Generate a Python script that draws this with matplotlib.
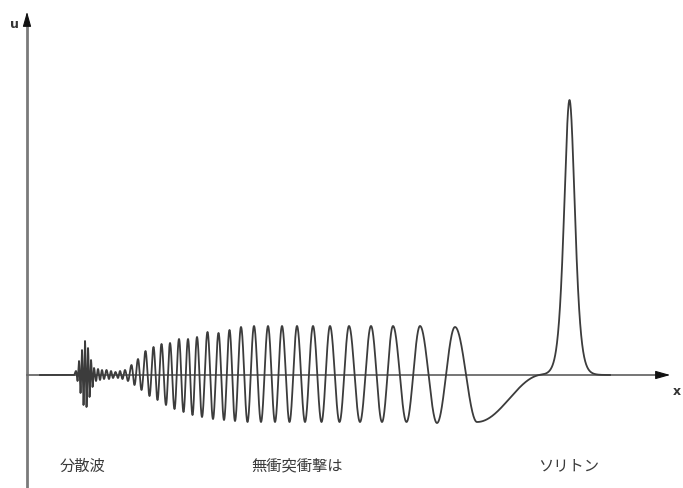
import numpy as np
import matplotlib
matplotlib.use("Agg")
import matplotlib.pyplot as plt

plt.rcParams['font.family'] = ['Noto Sans CJK JP', 'DejaVu Sans']

# Wave crests (position along x, height u) of the oscillatory train
crest_x = [76, 79, 82, 85, 88, 91, 94, 98, 102, 106.5, 111, 115.5, 120, 125, 131.5,
           138, 145.5, 153.5, 161.5, 170, 179, 188, 197, 207.5, 218.5, 229.5, 241,
           254, 268, 282, 297, 313, 330, 349, 371, 393, 420, 455]
crest_u = [4, 14, 25, 34, 27, 15, 7, 6, 5, 5, 4, 3, 4, 5, 10,
           16, 24, 28, 31, 32, 36, 36, 38, 43, 42, 45, 48,
           49, 49, 49, 49, 49, 49, 49, 49, 49, 49, 48]

# Wave troughs
trough_x = [77.5, 80.5, 83.5, 86.5, 89.5, 92.5, 96, 100, 104, 109, 113, 118, 122.5,
            128, 134.5, 141.5, 149.5, 157.5, 166, 174.5, 183.5, 192.5, 202, 213,
            224, 235, 247.5, 261, 275, 289.5, 305, 321.5, 339.5, 360, 382, 406.5,
            437, 477]
trough_u = [-6, -18, -30, -32, -22, -12, -6, -5, -4, -4, -3, -3, -4,
            -6, -10, -15, -21, -25, -30, -34, -37, -40, -42, -44,
            -45, -46, -47, -47, -47, -47, -47, -47, -47, -47, -47, -47,
            -48, -47]

# Flat baseline before and after the train
lead_x, lead_u = [40, 74], [0, 0]
tail_x, tail_u = [542, 610], [0, 0]

# Soliton: position, height, width
soliton_x0 = 569.5
soliton_amp = 275
soliton_w = 7.2

labels = ["分散波", "無衝突衝撃は", "ソリトン"]
label_x = [83, 297, 569]


def smooth_path(px, pu):
    xs, us = [], []
    for i in range(len(px) - 1):
        x0, x1, u0, u1 = px[i], px[i + 1], pu[i], pu[i + 1]
        n = max(12, int(abs(x1 - x0) * 6))
        t = np.linspace(0, 1, n, endpoint=False)
        xs.append(x0 + (x1 - x0) * t)
        us.append(u0 + (u1 - u0) * (1 - np.cos(np.pi * t)) / 2)
    xs.append([px[-1]])
    us.append([pu[-1]])
    return np.concatenate(xs), np.concatenate(us)


pts = sorted(list(zip(crest_x, crest_u)) + list(zip(trough_x, trough_u)))
px = lead_x + [p[0] for p in pts] + tail_x
pu = lead_u + [p[1] for p in pts] + tail_u
x, u = smooth_path(px, pu)
u = u + soliton_amp / np.cosh((x - soliton_x0) / soliton_w) ** 2

fig = plt.figure(figsize=(6.83, 4.89), dpi=100)
ax = fig.add_axes([0, 0, 1, 1])
ax.set_xlim(0, 683)
ax.set_ylim(-113, 376)
ax.axis('off')

# Coordinate axes with arrow heads
ax.plot([27, 27], [-113, 355], color='#7a7a7a', lw=2.0, solid_capstyle='butt', zorder=2)
ax.annotate('', xy=(27, 366), xytext=(27, 352),
            arrowprops=dict(arrowstyle='-|>,head_length=0.6,head_width=0.17',
                            mutation_scale=15, color='#111111', lw=0.8))
ax.plot([27, 662], [0, 0], color='#6a6a6a', lw=1.3, zorder=2)
ax.annotate('', xy=(673, 0), xytext=(660, 0),
            arrowprops=dict(arrowstyle='-|>,head_length=0.6,head_width=0.17',
                            mutation_scale=15, color='#111111', lw=0.8))

ax.plot(x, u, color='#3c3c3c', lw=1.3, zorder=3)

ax.text(14, 351, 'u', fontsize=9, fontweight='bold', color='#333333',
        family='DejaVu Sans', ha='center', va='center')
ax.text(677, -16, 'x', fontsize=9, fontweight='bold', color='#333333',
        family='DejaVu Sans', ha='center', va='center')

for lab, lx in zip(labels, label_x):
    ax.text(lx, -90, lab, fontsize=11, color='#3a3a3a', ha='center', va='center')

fig.savefig('out.png', dpi=100)
